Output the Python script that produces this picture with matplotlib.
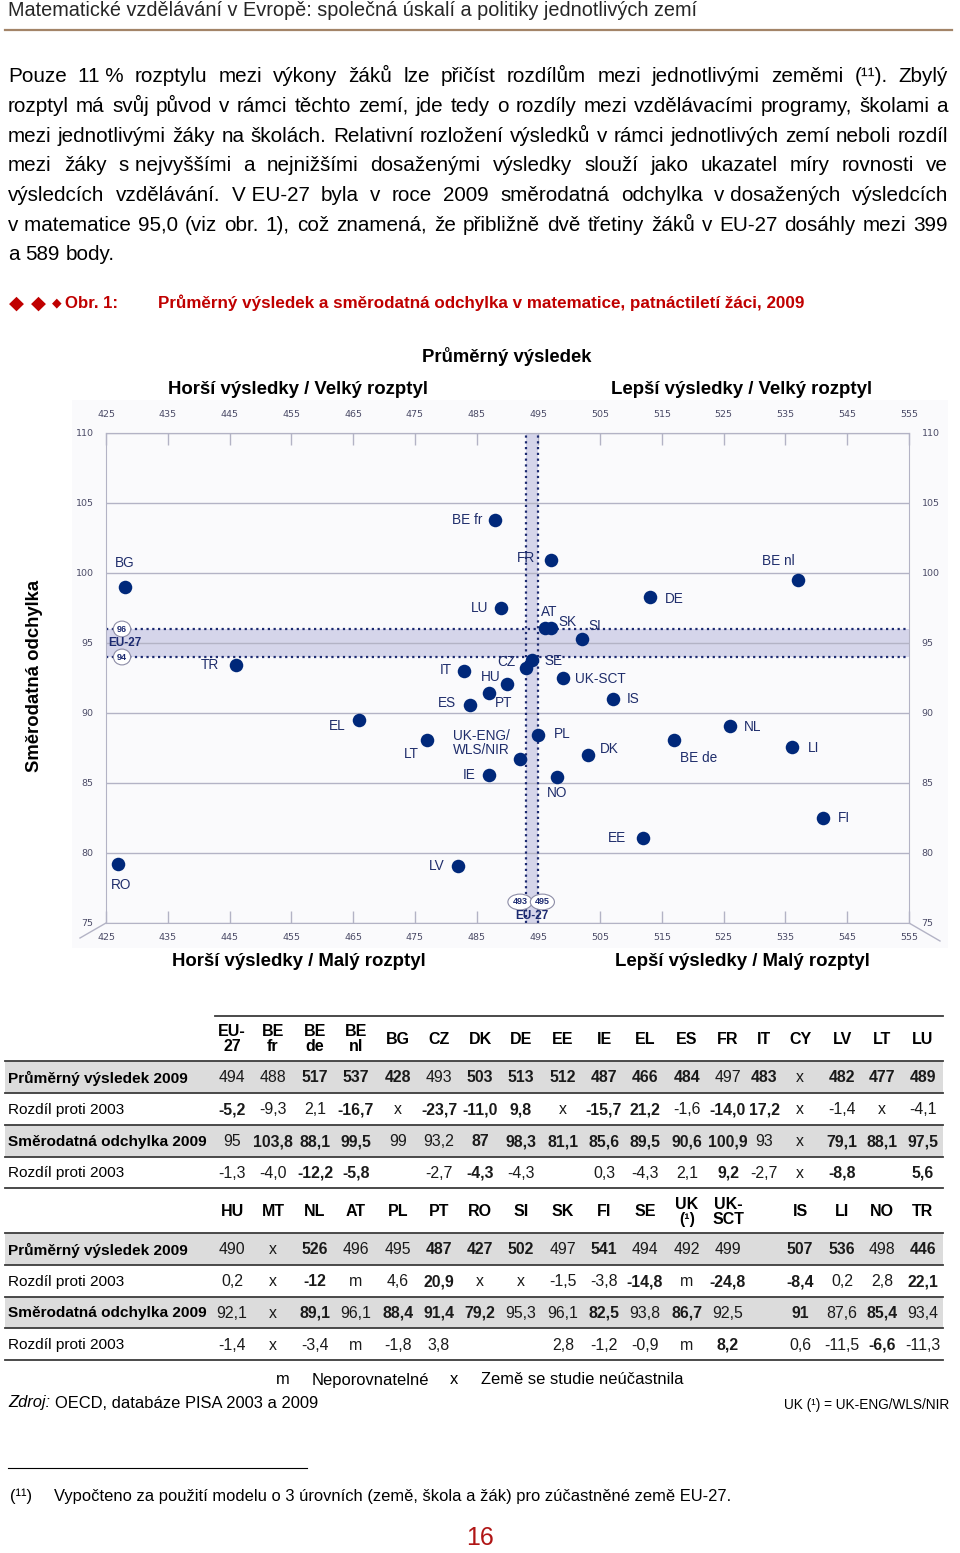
# %% PISA 2009 page: mean score vs. standard deviation in maths

import matplotlib
matplotlib.use('Agg')
import matplotlib.pyplot as plt
from matplotlib import font_manager
from matplotlib.patches import Rectangle

# %% chart data
eu_mean = 494
eu_sd = 95
eu_mean_band = (493, 495)
eu_sd_band = (94, 96)

codes = ['BE fr', 'BE de', 'BE nl', 'BG', 'CZ', 'DK', 'DE', 'EE', 'IE', 'EL', 'ES', 'FR', 'IT', 'LV',
         'LT', 'LU', 'HU', 'NL', 'AT', 'PL', 'PT', 'RO', 'SI', 'SK', 'FI', 'SE', 'UK-ENG/\nWLS/NIR',
         'UK-SCT', 'IS', 'LI', 'NO', 'TR']
mean_2009 = [488, 517, 537, 428, 493, 503, 513, 512, 487, 466, 484, 497, 483, 482,
             477, 489, 490, 526, 496, 495, 487, 427, 502, 497, 541, 494, 492,
             499, 507, 536, 498, 446]
sd_2009 = [103.8, 88.1, 99.5, 99, 93.2, 87, 98.3, 81.1, 85.6, 89.5, 90.6, 100.9, 93, 79.1,
           88.1, 97.5, 92.1, 89.1, 96.1, 88.4, 91.4, 79.2, 95.3, 96.1, 82.5, 93.8, 86.7,
           92.5, 91, 87.6, 85.4, 93.4]

# %% table data
row_names = ['Průměrný výsledek 2009', 'Rozdíl proti 2003', 'Směrodatná odchylka 2009', 'Rozdíl proti 2003']

cols1 = ['EU-\n27', 'BE\nfr', 'BE\nde', 'BE\nnl', 'BG', 'CZ', 'DK', 'DE', 'EE', 'IE', 'EL', 'ES',
         'FR', 'IT', 'CY', 'LV', 'LT', 'LU']
mean1 = ['494', '488', '517', '537', '428', '493', '503', '513', '512', '487', '466', '484',
         '497', '483', 'x', '482', '477', '489']
dmean1 = ['-5,2', '-9,3', '2,1', '-16,7', 'x', '-23,7', '-11,0', '9,8', 'x', '-15,7', '21,2', '-1,6',
          '-14,0', '17,2', 'x', '-1,4', 'x', '-4,1']
sd1 = ['95', '103,8', '88,1', '99,5', '99', '93,2', '87', '98,3', '81,1', '85,6', '89,5', '90,6',
       '100,9', '93', 'x', '79,1', '88,1', '97,5']
dsd1 = ['-1,3', '-4,0', '-12,2', '-5,8', '', '-2,7', '-4,3', '-4,3', '', '0,3', '-4,3', '2,1',
        '9,2', '-2,7', 'x', '-8,8', '', '5,6']
# 1 = printed in bold
bold1 = ['001110111111010111', '100101110110110000', '011100111111100111', '001100100000100101']

cols2 = ['HU', 'MT', 'NL', 'AT', 'PL', 'PT', 'RO', 'SI', 'SK', 'FI', 'SE', 'UK\n(¹)', 'UK-\nSCT', '',
         'IS', 'LI', 'NO', 'TR']
mean2 = ['490', 'x', '526', '496', '495', '487', '427', '502', '497', '541', '494', '492', '499', '',
         '507', '536', '498', '446']
dmean2 = ['0,2', 'x', '-12', 'm', '4,6', '20,9', 'x', 'x', '-1,5', '-3,8', '-14,8', 'm', '-24,8', '',
          '-8,4', '0,2', '2,8', '22,1']
sd2 = ['92,1', 'x', '89,1', '96,1', '88,4', '91,4', '79,2', '95,3', '96,1', '82,5', '93,8', '86,7',
       '92,5', '', '91', '87,6', '85,4', '93,4']
dsd2 = ['-1,4', 'x', '-3,4', 'm', '-1,8', '3,8', '', '', '2,8', '-1,2', '-0,9', 'm', '8,2', '',
        '0,6', '-11,5', '-6,6', '-11,3']
bold2 = ['001001110100001101', '001001000010101001', '001011100101001010', '000000000000100010']

paragraph = [
    'Pouze 11\u00a0% rozptylu mezi výkony žáků lze přičíst rozdílům mezi jednotlivými zeměmi (¹¹). Zbylý',
    'rozptyl má svůj původ v rámci těchto zemí, jde tedy o rozdíly mezi vzdělávacími programy, školami a',
    'mezi jednotlivými žáky na školách. Relativní rozložení výsledků v rámci jednotlivých zemí neboli rozdíl',
    'mezi žáky s\u00a0nejvyššími a nejnižšími dosaženými výsledky slouží jako ukazatel míry rovnosti ve',
    'výsledcích vzdělávání. V\u00a0EU-27 byla v roce 2009 směrodatná odchylka v\u00a0dosažených výsledcích',
    'v\u00a0matematice 95,0 (viz obr. 1), což znamená, že přibližně dvě třetiny žáků v EU-27 dosáhly mezi 399',
    'a 589 body.',
]

# %% style
names = {f.name for f in font_manager.fontManager.ttflist}
SANS = 'Liberation Sans'
NARROW = 'Liberation Sans Narrow' if 'Liberation Sans Narrow' in names else SANS

DOT = '#00287a'
LBL = '#1f2d6b'
NAVY = '#1c2a70'
BAND = '#d5d5ea'
GRID = '#b3b3c5'
TICK = '#4a4a66'
BG = '#fafafc'
RED = '#c00000'
GRAY = '#dcdcdc'

# offsets of the country labels from their dot (pixels, y down) + alignment
label_pos = {
    'BE fr': (-13, 0, 'right'), 'BE de': (6, 18, 'left'), 'BE nl': (-20, -19, 'center'),
    'BG': (0, -24, 'center'), 'CZ': (-11, -6, 'right'), 'DK': (12, -6, 'left'),
    'DE': (15, 2, 'left'), 'EE': (-17, 0, 'right'), 'IE': (-13, 0, 'right'),
    'EL': (-14, 6, 'right'), 'ES': (-14, -2, 'right'), 'FR': (-16, -2, 'right'),
    'IT': (-12, -1, 'right'), 'LV': (-13, 0, 'right'), 'LT': (-8, 14, 'right'),
    'LU': (-13, 0, 'right'), 'HU': (-7, -7, 'right'), 'NL': (14, 1, 'left'),
    'AT': (-4, -16, 'left'), 'PL': (15, -1, 'left'), 'PT': (6, 10, 'left'),
    'RO': (3, 21, 'center'), 'SI': (7, -13, 'left'), 'SK': (8, -6, 'left'),
    'FI': (15, 0, 'left'), 'SE': (12, 1, 'left'), 'UK-ENG/\nWLS/NIR': (-10, -16, 'right'),
    'UK-SCT': (12, 1, 'left'), 'IS': (14, 0, 'left'), 'LI': (16, 1, 'left'),
    'NO': (0, 16, 'center'), 'TR': (-17, 0, 'right'),
}

# %% page canvas (1 unit = 1 pixel, y downwards)
fig = plt.figure(figsize=(9.6, 15.53), dpi=100)
page = fig.add_axes([0, 0, 1, 1])
page.set_xlim(0, 960)
page.set_ylim(1553, 0)
page.axis('off')
r = fig.canvas.get_renderer()


def txt(x, y, s, **kw):
    kw.setdefault('va', 'center')
    kw.setdefault('family', SANS)
    return page.text(x, y, s, **kw)


def fit(t, w, vertical=False):
    bb = t.get_window_extent(r)
    cur = bb.height if vertical else bb.width
    t.set_fontsize(t.get_fontsize() * w / cur)
    return t.get_fontsize()


def justify(line, y, x0, x1, fs, last=False):
    words = line.split(' ')
    ts = [txt(x0, y, w, fontsize=fs, va='baseline', color='black') for w in words]
    ws = [t.get_window_extent(r).width for t in ts]
    gap = fs * 100 / 72 * 0.278 if last else (x1 - x0 - sum(ws)) / (len(ws) - 1)
    x = x0
    for t, w in zip(ts, ws):
        t.set_x(x)
        x += w + gap


# header
h = txt(8, 10, 'Matematické vzdělávání v Evropě: společná úskalí a politiky jednotlivých zemí',
        fontsize=12, color='#262626')
fit(h, 687)
page.plot([5, 952], [30, 30], color='#a38468', lw=1.6)

# paragraph
probe = txt(8, 0, paragraph[-1], fontsize=14)
pfs = fit(probe, 107)
probe.remove()
for i, line in enumerate(paragraph):
    justify(line, 82.3 + i * 29.7, 8, 948, pfs, last=(i == len(paragraph) - 1))

# figure title
txt(16, 303, '◆', family='DejaVu Sans', fontsize=14, color=RED, ha='center')
txt(38, 303, '◆', family='DejaVu Sans', fontsize=14, color=RED, ha='center')
txt(57, 303, '◆', family='DejaVu Sans', fontsize=9, color=RED, ha='center')
fit(txt(65, 303, 'Obr. 1:', family=NARROW, fontsize=14, weight='bold', color=RED), 53)
fit(txt(158, 303, 'Průměrný výsledek a směrodatná odchylka v matematice, patnáctiletí žáci, 2009',
        family=NARROW, fontsize=14, weight='bold', color=RED), 645)

# chart headings
fit(txt(507, 356, 'Průměrný výsledek', fontsize=13, weight='bold', ha='center'), 170)
fit(txt(298.5, 390, 'Horší výsledky / Velký rozptyl', fontsize=13, weight='bold', ha='center'), 261)
fit(txt(742, 390, 'Lepší výsledky / Velký rozptyl', fontsize=13, weight='bold', ha='center'), 262)
fit(txt(299, 961, 'Horší výsledky / Malý rozptyl', fontsize=13, weight='bold', ha='center'), 254)
fit(txt(742, 961, 'Lepší výsledky / Malý rozptyl', fontsize=13, weight='bold', ha='center'), 256)
fit(txt(35, 676, 'Směrodatná odchylka', fontsize=13, weight='bold', ha='center', rotation=90), 192,
    vertical=True)

# chart backdrop and corner strokes
page.add_patch(Rectangle((72, 400), 876, 548, color=BG, lw=0, zorder=0))
page.plot([106, 80], [923, 938], color=GRID, lw=1)
page.plot([909, 940], [923, 941], color=GRID, lw=1)

# %% scatter
ax = fig.add_axes([106 / 960, 1 - 923 / 1553, 803 / 960, 490 / 1553])
ax.set_xlim(425, 555)
ax.set_ylim(75, 110)
ax.set_facecolor(BG)
for sp in ax.spines.values():
    sp.set_color(GRID)

ax.axhspan(*eu_sd_band, color=BAND, lw=0, zorder=0.3)
ax.axvspan(*eu_mean_band, color=BAND, lw=0, zorder=0.3)
for v in eu_sd_band:
    ax.axhline(v, color=NAVY, lw=1.6, ls=(0, (1, 1.6)), zorder=2)
for v in eu_mean_band:
    ax.axvline(v, color=NAVY, lw=1.6, ls=(0, (1, 1.6)), zorder=2)

ax.scatter(mean_2009, sd_2009, s=95, color=DOT, linewidths=0, zorder=4)
for c, m, s in zip(codes, mean_2009, sd_2009):
    dx, dy, ha = label_pos[c]
    ax.annotate(c, (m, s), xytext=(dx, -dy), textcoords='offset pixels', ha=ha, va='center',
                multialignment='left', linespacing=1.0, fontsize=9.8, color=LBL, family=SANS,
                zorder=5)

# EU-27 markers on the bands
ell = dict(boxstyle='ellipse,pad=0.12', fc='white', ec='#8c8ca6', lw=0.8)
small = dict(family=NARROW, weight='bold', color=NAVY, fontsize=6.5, ha='center', va='center',
             textcoords='offset pixels', zorder=6)
for v in eu_sd_band:
    ax.annotate(str(v), (0, v), xycoords=('axes fraction', 'data'), xytext=(16, 0), bbox=ell, **small)
ax.annotate('EU-27', (0, eu_sd), xycoords=('axes fraction', 'data'), xytext=(19, 0),
            **{**small, 'fontsize': 8.5})
for v, off in zip(eu_mean_band, (-6, 4)):
    ax.annotate(str(v), (v, 0), xycoords=('data', 'axes fraction'), xytext=(off, 21), bbox=ell, **small)
ax.annotate('EU-27', (eu_mean, 0), xycoords=('data', 'axes fraction'), xytext=(0, 7),
            **{**small, 'fontsize': 8.5})

xt = list(range(425, 556, 10))
ax.set_xticks(xt)
ax.set_yticks(list(range(75, 111, 5)))
ax.grid(axis='y', color=GRID, lw=1)
ax.tick_params(axis='x', direction='in', length=8.6, width=1, color=GRID, labelsize=6.8,
               labelcolor=TICK, pad=7)
ax.tick_params(axis='y', length=0, labelsize=6.8, labelcolor=TICK, pad=9, labelright=True)
sec = ax.secondary_xaxis('top')
sec.set_xticks(xt)
sec.tick_params(direction='in', length=8.6, width=1, color=GRID, labelsize=6.8, labelcolor=TICK,
                pad=10.4)
sec.spines['top'].set_color(GRID)

# %% table
col_x = [232, 273, 315, 356, 398, 439, 480, 521, 563, 604, 645, 687, 728, 764, 800, 842, 882, 923]
probe = txt(8, 0, row_names[2], family=NARROW, weight='bold', fontsize=12)
tfs = fit(probe, 198)
probe.remove()


def table_block(y_head, lines, cols, rows, bolds):
    for a, b in ((0, 1), (2, 3)):
        page.add_patch(Rectangle((5, lines[a]), 938, lines[b] - lines[a], color=GRAY, lw=0))
    for y in lines:
        page.plot([5, 943], [y, y], color='#3c3c3c', lw=1.3)
    for x, c in zip(col_x, cols):
        txt(x, y_head, c, family=NARROW, weight='bold', fontsize=tfs + 0.4, ha='center',
            linespacing=0.95)
    for i, (vals, bl) in enumerate(zip(rows, bolds)):
        y = (lines[i] + lines[i + 1]) / 2 + 1
        txt(8, y, row_names[i], family=NARROW, fontsize=tfs,
            weight='bold' if i % 2 == 0 else 'normal')
        for x, v, b in zip(col_x, vals, bl):
            txt(x, y, v, family=NARROW, fontsize=tfs + 0.3, ha='center', color='#1a1a1a',
                weight='bold' if b == '1' else 'normal')


page.plot([215, 943], [1016, 1016], color='#3c3c3c', lw=1.3)
table_block(1039, [1061, 1093, 1125, 1157, 1188], cols1, [mean1, dmean1, sd1, dsd1], bold1)
table_block(1212, [1233, 1265, 1297, 1328, 1360], cols2, [mean2, dmean2, sd2, dsd2], bold2)

# legend / source
lfs = fit(txt(481, 1380, 'Země se studie neúčastnila', fontsize=12), 201)
txt(283, 1380, 'm', fontsize=lfs, ha='center')
txt(312, 1380, 'Neporovnatelné', fontsize=lfs)
txt(454, 1380, 'x', fontsize=lfs, ha='center')
z = txt(8, 1403, 'Zdroj:', fontsize=lfs, style='italic')
zw = z.get_window_extent(r).width
txt(8 + zw + lfs * 100 / 72 * 0.278, 1403, 'OECD, databáze PISA 2003 a 2009', fontsize=lfs)
fit(txt(949, 1405, 'UK (¹) = UK-ENG/WLS/NIR', family=NARROW, fontsize=12, ha='right'), 165)

# footnote
page.plot([8, 307], [1468, 1468], color='black', lw=0.8)
ffs = fit(txt(54, 1496, 'Vypočteno za použití modelu o 3 úrovních (země, škola a žák) pro zúčastněné země EU-27.',
              family=NARROW, fontsize=12), 675)
txt(10, 1496, '(¹¹)', family=NARROW, fontsize=ffs)
txt(480, 1538, '16', family=NARROW, fontsize=18, color='#b01515', ha='center')

fig.savefig('out.png', dpi=100)
